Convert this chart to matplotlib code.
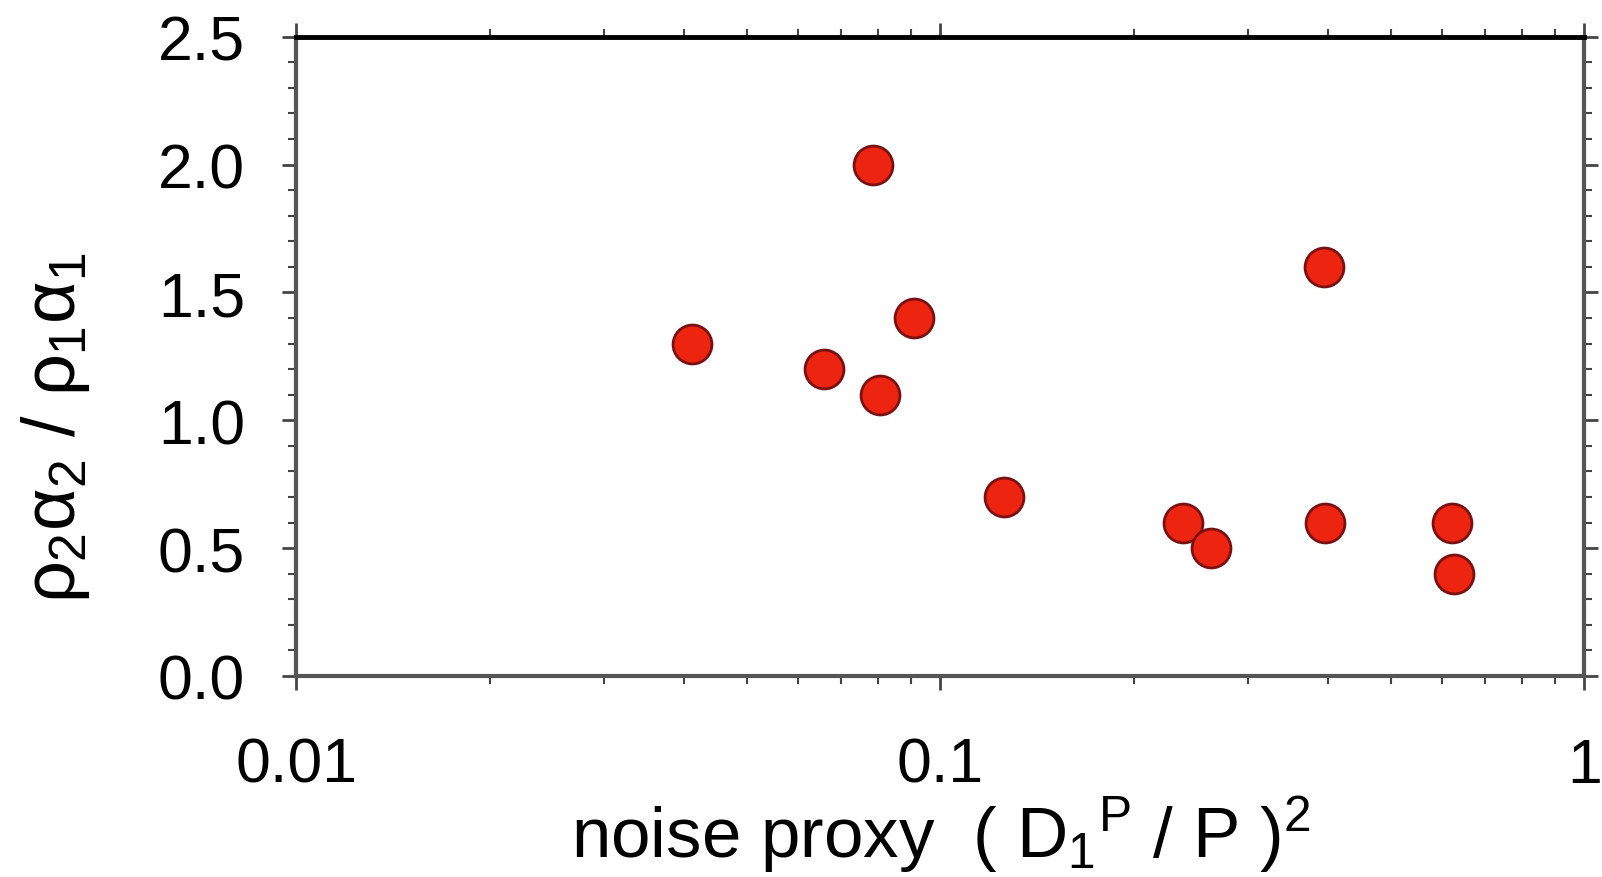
import matplotlib
matplotlib.use("Agg")
import matplotlib.pyplot as plt
from matplotlib.ticker import LogLocator, NullFormatter, MultipleLocator, FixedLocator, FixedFormatter

plt.rcParams['font.family'] = ['Liberation Sans', 'DejaVu Sans']
plt.rcParams['mathtext.fontset'] = 'custom'
plt.rcParams['mathtext.rm'] = 'Liberation Sans'
plt.rcParams['mathtext.it'] = 'Liberation Sans'
plt.rcParams['mathtext.bf'] = 'Liberation Sans:bold'

# Data
noise_proxy = [0.0412, 0.066, 0.0787, 0.0807, 0.091, 0.1256, 0.238, 0.263, 0.394, 0.395, 0.624, 0.627]
ratio = [1.30, 1.20, 2.00, 1.10, 1.40, 0.70, 0.60, 0.50, 1.60, 0.60, 0.60, 0.40]
x_ticks = [0.01, 0.1, 1]
x_tick_labels = ['0.01', '0.1', '1']
y_ticks = [0.0, 0.5, 1.0, 1.5, 2.0, 2.5]
y_tick_labels = ['0.0', '0.5', '1.0', '1.5', '2.0', '2.5']

fig = plt.figure(figsize=(16.02, 8.78), dpi=100)
ax = fig.add_axes([0.185, 0.229, 0.804, 0.728])

ax.plot(noise_proxy, ratio, linestyle='none', marker='o', markersize=28,
        markerfacecolor='#ec2410', markeredgecolor='#7a1010', markeredgewidth=2, zorder=3)

ax.set_xscale('log')
ax.set_xlim(0.01, 1)
ax.set_ylim(0, 2.5)
ax.xaxis.set_major_locator(FixedLocator(x_ticks))
ax.xaxis.set_major_formatter(FixedFormatter(x_tick_labels))
ax.xaxis.set_minor_locator(LogLocator(base=10, subs=range(2, 10)))
ax.xaxis.set_minor_formatter(NullFormatter())
ax.yaxis.set_major_locator(FixedLocator(y_ticks))
ax.yaxis.set_major_formatter(FixedFormatter(y_tick_labels))
ax.yaxis.set_minor_locator(MultipleLocator(0.1))

ax.tick_params(which='both', direction='out', top=True, right=True, color='#444444')
ax.tick_params(which='major', length=10, width=2, labelsize=45)
ax.tick_params(axis='x', which='major', pad=33)
ax.tick_params(axis='y', which='major', pad=27)
ax.tick_params(which='minor', length=6, width=1.5)

for side in ['left', 'bottom', 'right']:
    ax.spines[side].set_color('#555555')
    ax.spines[side].set_linewidth(3)
ax.spines['top'].set_color('black')
ax.spines['top'].set_linewidth(3.5)

ax.set_ylabel(r'$\rho_2\alpha_2$ / $\rho_1\alpha_1$', fontsize=53)
ax.yaxis.set_label_coords(-0.159, 0.39)
ax.set_xlabel(r'noise proxy  ( D$_1$$^{\mathrm{P}}$ / P )$^2$', fontsize=51)
ax.xaxis.set_label_coords(0.5, -0.184)

fig.savefig('out.png', dpi=100)
